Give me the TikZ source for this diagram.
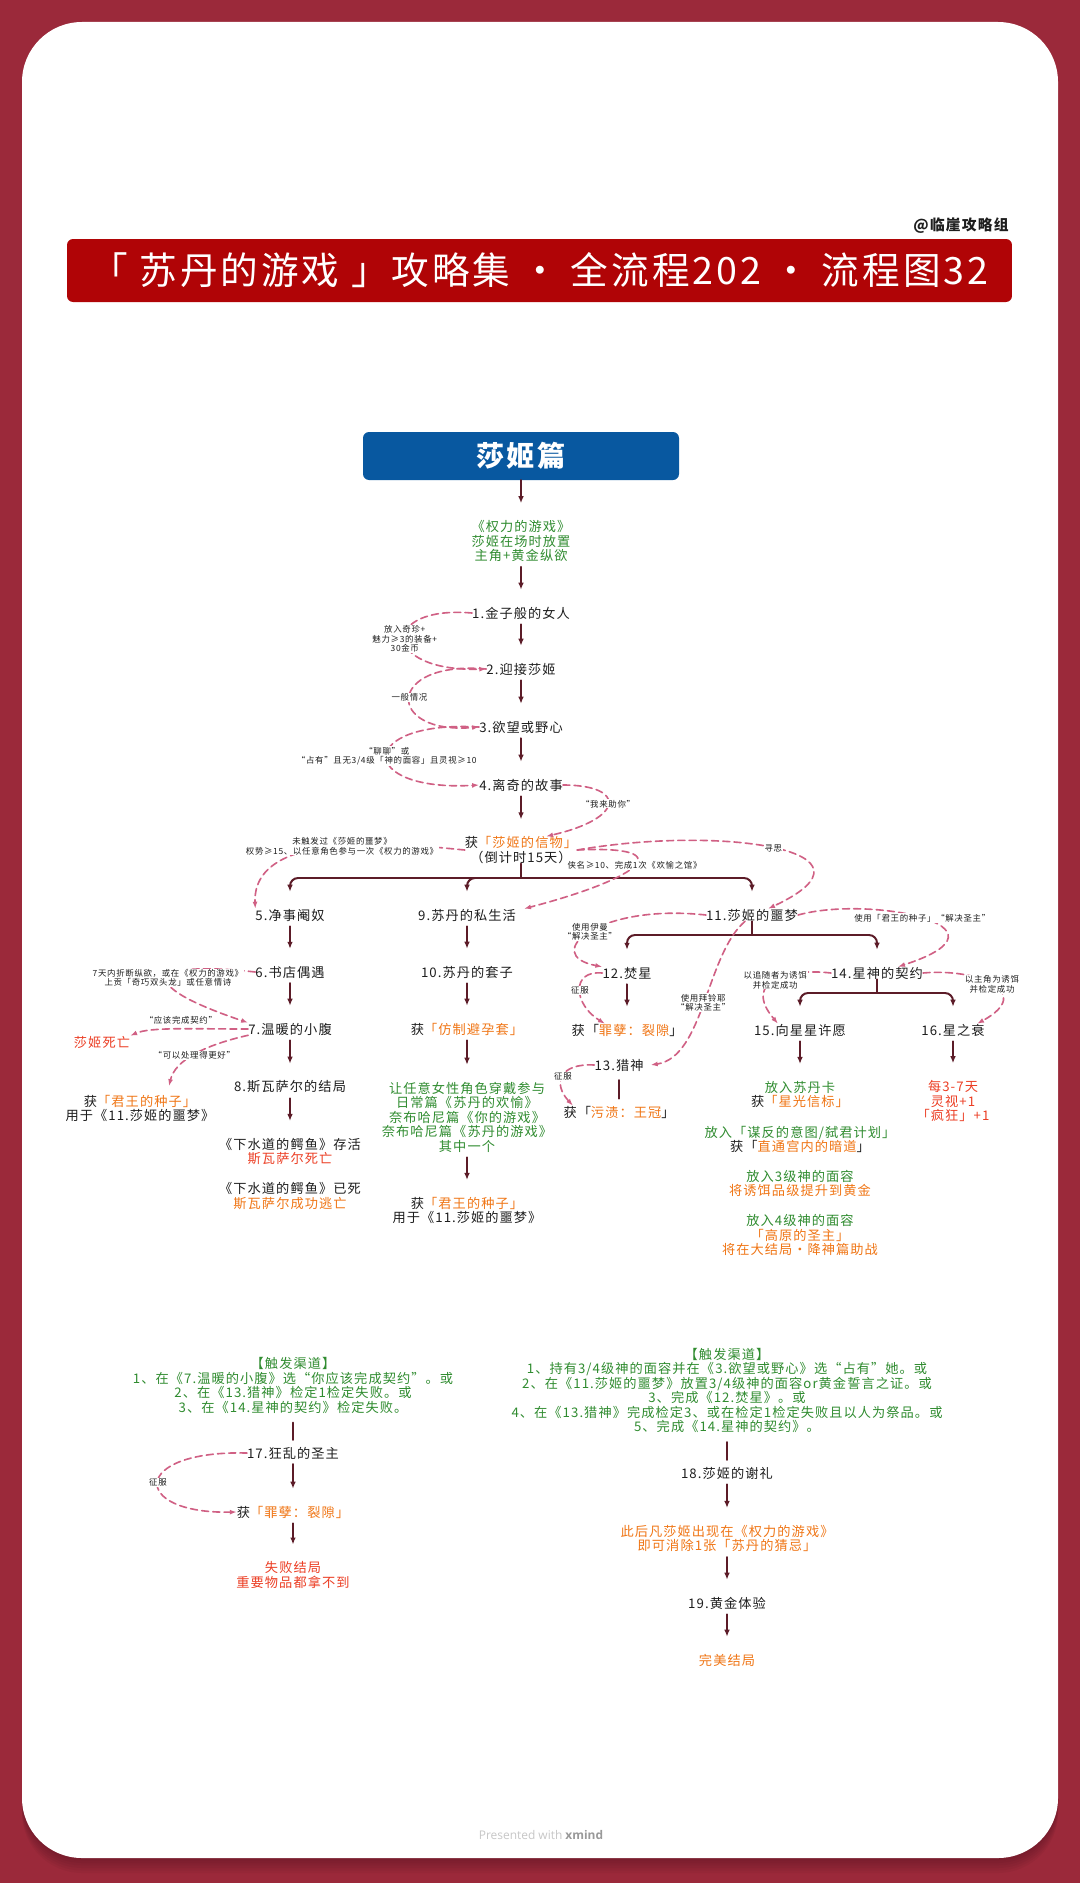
\documentclass[tikz,border=0pt]{standalone}
\usepackage{fontspec}
\setmainfont{Noto Sans CJK SC}[LetterSpace=8]
\newfontfamily\footfont{Open Sans}
\usetikzlibrary{arrows.meta}

\definecolor{bgred}{RGB}{155,41,58}
\definecolor{titlered}{RGB}{176,4,6}
\definecolor{boxblue}{RGB}{8,88,160}
\definecolor{leaf}{RGB}{48,140,48}
\definecolor{amber}{RGB}{240,118,22}
\definecolor{scarlet}{RGB}{236,62,36}
\definecolor{flowc}{RGB}{92,28,40}
\definecolor{linkc}{RGB}{208,96,132}
\definecolor{ink}{RGB}{30,30,30}

% item got: orange name, with or without orange brackets
\newcommand\gain[1]{获\textcolor{amber}{「#1」}}
\newcommand\gainplain[1]{获「\textcolor{amber}{#1}」}

\begin{document}
\begin{tikzpicture}[x=0.05cm,y=-0.05cm,cap=round,>={Latex[length=10pt,width=8pt]},
    topic/.style={font=\fontsize{18.8}{20.6}\selectfont,text=ink,align=center,inner sep=0pt},
    hint/.style={topic,text=leaf},
    tag/.style={font=\fontsize{12}{13.5}\selectfont,text=ink,align=center,fill=white,inner sep=1pt},
    stem/.style={draw=flowc,line width=2.8pt},
    flow/.style={stem,->,shorten <=0.25cm,shorten >=0.85cm},
    link/.style={draw=linkc,line width=2.3pt,dash pattern=on 10pt off 6pt,-{Latex[length=10pt,width=7pt]}}]

        % draw the page and the card
        \useasboundingbox (0,0) rectangle (1080,1883);
        \fill[bgred] (0,0) rectangle (1080,1883);
        \foreach \k in {1,...,6}
                \fill[black,opacity=0.035,rounded corners=3cm] (22,22+\k*2) rectangle (1058,1858+\k*2.5);
        \fill[white,rounded corners=3cm] (22,22) rectangle (1058,1858);

        % draw the header
        \node (sign) at (961,226) [font=\fontsize{21}{21}\selectfont\bfseries,text=ink] {@临崖攻略组};
        \node (bar) at (539.5,270.5) [fill=titlered,rounded corners=0.3cm,minimum width=47.25cm,minimum height=3.15cm,text=white,font=\fontsize{53.5}{54}\selectfont] {「 苏丹的游戏 」攻略集 · 全流程202 · 流程图32};
        \node (b0) at (521,456) [fill=boxblue,rounded corners=0.3cm,minimum width=15.8cm,minimum height=2.4cm,text=white,font=\fontsize{40}{40}\selectfont\bfseries] {莎姬篇};

        % main column
        \node[hint] (s0) at (521,541) {《权力的游戏》\\莎姬在场时放置\\主角+黄金纵欲};
        \node[topic] (n1) at (521,613) {1.金子般的女人};
        \node[topic] (n2) at (521,669) {2.迎接莎姬};
        \node[topic] (n3) at (521,727) {3.欲望或野心};
        \node[topic] (n4) at (521,785) {4.离奇的故事};
        \node[topic] (g1) at (521,850) {\gain{莎姬的信物}\\（倒计时15天）};
        \coordinate (j1) at (521,878);

        % left column
        \node[topic] (n5) at (290,915) {5.净事阉奴};
        \node[topic] (n6) at (290,972) {6.书店偶遇};
        \node[topic] (n7) at (290,1029) {7.温暖的小腹};
        \node[topic] (n8) at (290,1087) {8.斯瓦萨尔的结局};
        \node[topic] (e1) at (290,1151.5) {《下水道的鳄鱼》存活\\\textcolor{scarlet}{斯瓦萨尔死亡}};
        \node[topic] (e2) at (290,1196) {《下水道的鳄鱼》已死\\\textcolor{amber}{斯瓦萨尔成功逃亡}};
        \node[topic,text=scarlet] (d1) at (102,1042) {莎姬死亡};
        \node[topic] (g7) at (140,1108.5) {\gain{君王的种子}\\用于《11.莎姬的噩梦》};

        % middle column
        \node[topic] (n9) at (467,915) {9.苏丹的私生活};
        \node[topic] (n10) at (467,972) {10.苏丹的套子};
        \node[topic] (g2) at (467,1029) {\gain{仿制避孕套}};
        \node[hint] (s1) at (467,1117) {让任意女性角色穿戴参与\\日常篇《苏丹的欢愉》\\奈布哈尼篇《你的游戏》\\奈布哈尼篇《苏丹的游戏》\\其中一个};
        \node[topic] (g3) at (467,1210.5) {\gain{君王的种子}\\用于《11.莎姬的噩梦》};

        % right column
        \node[topic] (n11) at (752,915) {11.莎姬的噩梦};
        \coordinate (j2) at (752,935);
        \node[topic] (n12) at (627,973) {12.焚星};
        \node[topic] (g4) at (627,1030) {\gainplain{罪孽：裂隙}};
        \node[topic] (n13) at (619,1065) {13.猎神};
        \node[topic] (g5) at (619,1112) {\gainplain{污渍：王冠}};
        \node[topic] (n14) at (877,973) {14.星神的契约};
        \coordinate (j3) at (877,993);
        \node[topic] (n15) at (800,1030) {15.向星星许愿};
        \node[topic] (n16) at (953,1030) {16.星之衰};
        \node[hint] (s2) at (800,1094.5) {放入苏丹卡\\\textcolor{ink}{\gain{星光信标}}};
        \node[topic,text=scarlet] (r1) at (953,1101) {每3-7天\\灵视+1\\「疯狂」+1};
        \node[hint] (s3) at (800,1139.5) {放入「谋反的意图/弑君计划」\\\textcolor{ink}{\gainplain{直通宫内的暗道}}};
        \node[hint] (s4) at (800,1183.5) {放入3级神的面容\\\textcolor{amber}{将诱饵品级提升到黄金}};
        \node[hint] (s5) at (800,1235) {放入4级神的面容\\\textcolor{amber}{「高原的圣主」}\\\textcolor{amber}{将在大结局·降神篇助战}};

        % bad ending
        \node[hint] (s6) at (293,1385.5) {【触发渠道】\\1、在《7.温暖的小腹》选“你应该完成契约”。或\\2、在《13.猎神》检定1检定失败。或\\3、在《14.星神的契约》检定失败。};
        \node[topic] (n17) at (293,1453) {17.狂乱的圣主};
        \node[topic] (g6) at (293,1512) {\gain{罪孽：裂隙}};
        \node[topic,text=scarlet] (r2) at (293,1575) {失败结局\\重要物品都拿不到};

        % perfect ending
        \node[hint] (s7) at (727,1390.5) {【触发渠道】\\1、持有3/4级神的面容并在《3.欲望或野心》选“占有”她。或\\2、在《11.莎姬的噩梦》放置3/4级神的面容or黄金誓言之证。或\\3、完成《12.焚星》。或\\4、在《13.猎神》完成检定3、或在检定1检定失败且以人为祭品。或\\5、完成《14.星神的契约》。};
        \node[topic] (n18) at (727,1473) {18.莎姬的谢礼};
        \node[topic,text=amber] (s8) at (727,1538.5) {此后凡莎姬出现在《权力的游戏》\\即可消除1张「苏丹的猜忌」};
        \node[topic] (n19) at (727,1603) {19.黄金体验};
        \node[topic,text=amber] (r3) at (727,1660) {完美结局};

        \node (foot) at (541,1835) [font=\footfont\fontsize{17}{17}\selectfont,text=black!22] {Presented with \textbf{\textcolor{black!40}{xmind}}};

        % draw the flow arrows
        \draw[flow,shorten <=0pt] (b0.south) -- (s0.north);
        \foreach \a/\b in {s0/n1,n1/n2,n2/n3,n3/n4,n4/g1,n5/n6,n6/n7,n7/n8,n8/e1,n9/n10,n10/g2,g2/s1,s1/g3,
                n12/g4,n15/s2,n16/r1,n17/g6,g6/r2,n18/s8,s8/n19,n19/r3}
                \draw[flow] (\a.south) -- (\b.north);
        \foreach \a/\b in {n13/g5,s6/n17,s7/n18}
                \draw[stem,shorten <=0.45cm,shorten >=0.35cm] (\a.south) -- (\b.north);

        % draw the forks
        \draw[stem] (g1.south) -- (j1);
        \draw[stem] (n11.south) -- (j2);
        \draw[stem] (n14.south) -- (j3);
        \foreach \j/\t in {j1/n5,j1/n9,j1/n11,j2/n12,j2/n14,j3/n15,j3/n16}
                \draw[stem,->,rounded corners=0.4cm,shorten >=0.85cm] (\j) -| (\t.north);

        % draw the dashed links with their labels
        \draw[link] (n1.west) .. controls (380,605) and (380,672) .. node[tag] (t1) {放入奇珍+\\魅力≥3的装备+\\30金币} (n2.west);
        \draw[link] (n2.west) .. controls (385,660) and (385,735) .. node[tag] (t2) {一般情况} (n3.west);
        \draw[link] (n3.west) .. controls (356,720) and (356,792) .. node[tag] (t3) {“聊聊”或\\“占有”且无3/4级「神的面容」且灵视≥10} (n4.west);
        \draw[link] (n4.east) .. controls (626,785) and (626,818) .. node[tag] (t4) {“我来助你”} ([xshift=1.25cm]g1.north);
        \draw[link] (g1.west) .. controls (420,846) and (252,824) .. node[tag] (t5) {未触发过《莎姬的噩梦》\\权势≥15、以任意角色参与一次《权力的游戏》} (n5.north west);
        \draw[link] (g1.east) .. controls (680,845) and (645,877) .. node[tag] (t6) {侠名≥10、完成1次《欢愉之馆》} ([xshift=0.4cm]n9.north east);
        \draw[link] (g1.east) .. controls (720,825) and (894,850) .. node[tag] (t7) {寻思} ([xshift=0.8cm]n11.north);
        \draw[link] (n6.west) .. controls (150,960) and (130,983) .. node[tag] (t8) {7天内折断纵欲，或在《权力的游戏》\\上贡「奇巧双头龙」或任意情诗} (n7.north west);
        \draw[link] (n7.west) .. controls (190,1029) and (150,1027) .. node[tag,pos=0.45,above=0.15cm] (t9) {“应该完成契约”} (d1.north east);
        \draw[link,shorten >=0.45cm] (n7.south west) .. controls (205,1045) and (175,1060) .. node[tag] (t10) {“可以处理得更好”} ([xshift=1.35cm]g7.north);
        \draw[link] (n11.west) .. controls (597,903) and (540,955) .. node[tag] (t11) {使用伊曼\\“解决圣主”} (n12.north west);
        \draw[link] (n12.west) .. controls (570,970) and (574,1005) .. node[tag] (t12) {征服} ([xshift=-1.1cm]g4.north);
        \draw[link] ([xshift=-0.35cm]n11.south) .. controls (706,955) and (704,1057) .. node[tag] (t13) {使用拜铃耶\\“解决圣主”} ([xshift=0.35cm]n13.east);
        \draw[link] (n13.west) .. controls (560,1063) and (552,1083) .. node[tag] (t14) {征服} ([xshift=-2.3cm]g5.north);
        \draw[link] (n11.east) .. controls (870,895) and (1024,926) .. node[tag] (t15) {使用「君王的种子」“解决圣主”} ([xshift=1.05cm]n14.north);
        \draw[link] (n14.west) .. controls (790,968) and (741,980) .. node[tag] (t16) {以追随者为诱饵\\并检定成功} ([xshift=-1.1cm]n15.north);
        \draw[link] (n14.east) .. controls (975,968) and (1037,991) .. node[tag] (t17) {以主角为诱饵\\并检定成功} ([xshift=1.2cm]n16.north);
        \draw[link] (n17.west) .. controls (130,1450) and (130,1514) .. node[tag] (t18) {征服} (g6.west);

\end{tikzpicture}
\end{document}
